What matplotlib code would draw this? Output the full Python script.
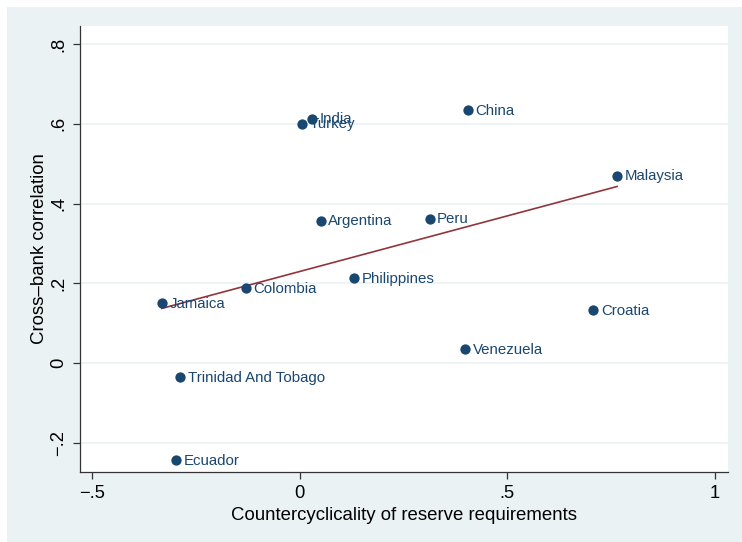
import matplotlib
matplotlib.use('Agg')
import matplotlib.pyplot as plt
import numpy as np

plt.rcParams['font.family'] = ['Liberation Sans', 'DejaVu Sans']

# countries with countercyclicality (x) and cross-bank correlation (y)
countries = ['India', 'Turkey', 'China', 'Malaysia', 'Argentina', 'Peru',
             'Philippines', 'Colombia', 'Jamaica', 'Croatia', 'Venezuela',
             'Trinidad And Tobago', 'Ecuador']
ccyc = [0.029, 0.005, 0.404, 0.764, 0.050, 0.3125,
        0.130, -0.130, -0.332, 0.707, 0.399, -0.288, -0.298]
corr = [0.6125, 0.600, 0.635, 0.470, 0.3575, 0.3625,
        0.2125, 0.1875, 0.150, 0.1325, 0.035, -0.035, -0.2425]

xticks = [-0.5, 0, 0.5, 1]
xticklabels = ['\u2212.5', '0', '.5', '1']
yticks = [-0.2, 0, 0.2, 0.4, 0.6, 0.8]
yticklabels = ['\u2212.2', '0', '.2', '.4', '.6', '.8']

navy = '#1a476f'
maroon = '#90353b'
bg = '#eaf2f3'

fig = plt.figure(figsize=(7.42, 5.42), dpi=100)
fig.patch.set_facecolor('white')
# outer light panel like the Stata s2color scheme
fig.patches.append(plt.Rectangle((7/742, 0), 735/742, 535/542, transform=fig.transFigure,
                                 facecolor=bg, edgecolor='none', zorder=-10))
ax = fig.add_axes([80/742, 1 - 472/542, 648/742, 446/542])
ax.set_facecolor('white')

x = np.array(ccyc)
y = np.array(corr)
b, a = np.polyfit(x, y, 1)
xs = np.array([x.min(), x.max()])
ax.plot(xs, a + b*xs, color=maroon, lw=1.2, zorder=2)

ax.scatter(x, y, s=55, color=navy, zorder=3, linewidths=0)
for name, xi, yi in zip(countries, x, y):
    ax.annotate(name, (xi, yi), xytext=(5.5, -0.5), textcoords='offset points',
                va='center', ha='left', fontsize=10.8, color=navy, zorder=4)

ax.set_xlim(-0.529, 1.031)
ax.set_ylim(-0.2725, 0.845)
ax.set_xticks(xticks)
ax.set_xticklabels(xticklabels)
ax.set_yticks(yticks)
ax.set_yticklabels(yticklabels, rotation=90, va='center')
ax.grid(axis='y', color=bg, lw=1.2, zorder=0)
ax.set_axisbelow(True)
for side in ['top', 'right']:
    ax.spines[side].set_visible(False)
for side in ['left', 'bottom']:
    ax.spines[side].set_color('#333333')
    ax.spines[side].set_linewidth(0.9)
ax.tick_params(direction='out', length=5, width=0.9, color='#333333', labelsize=13.2, pad=4)
ax.set_xlabel('Countercyclicality of reserve requirements', fontsize=13.4, labelpad=4)
ax.set_ylabel('Cross\u2013bank correlation', fontsize=13.4, labelpad=2)

fig.savefig('out.png', dpi=100, facecolor='white')
